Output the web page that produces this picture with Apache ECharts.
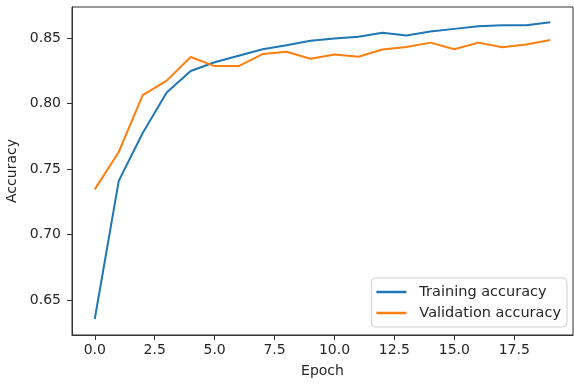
<!DOCTYPE html>
<html>
<head>
<meta charset="utf-8">
<script src="https://cdn.jsdelivr.net/npm/echarts@6/dist/echarts.min.js"></script>
<style>html,body{margin:0;padding:0;background:#fff;}#c{width:574px;height:385px;}</style>
</head>
<body>
<div id="c"></div>
<script>
const epochs = [0,1,2,3,4,5,6,7,8,9,10,11,12,13,14,15,16,17,18,19];
const trainAcc = [0.6355,0.7410,0.7775,0.8085,0.8248,0.8315,0.8365,0.8415,0.8445,0.8480,0.8497,0.8510,0.8540,0.8520,0.8550,0.8570,0.8590,0.8597,0.8597,0.8620];
const valAcc = [0.7345,0.7630,0.8065,0.8175,0.8355,0.8286,0.8286,0.8378,0.8396,0.8342,0.8375,0.8357,0.8412,0.8432,0.8465,0.8414,0.8465,0.8430,0.8450,0.8485];
const xTicks = [0,2.5,5,7.5,10,12.5,15,17.5];
const yTicks = [0.65,0.70,0.75,0.80,0.85];
const seriesNames = ['Training accuracy','Validation accuracy'];

const font = 'DejaVu Sans';
const txt = '#262626';
const chart = echarts.init(document.getElementById('c'));
chart.setOption({
  animation: false,
  backgroundColor: '#fff',
  grid: {left: 72, right: 1, top: 7, bottom: 50, show: true, borderColor: '#333', borderWidth: 1, backgroundColor: 'transparent', outerBoundsMode: 'none', containLabel: false},
  xAxis: {
    type: 'value', min: -0.95, max: 19.95,
    name: 'Epoch', nameLocation: 'middle', nameGap: 29,
    nameTextStyle: {fontFamily: font, fontSize: 14, color: txt},
    axisLine: {show: true, onZero: false, lineStyle: {color: '#333', width: 1}},
    axisTick: {show: true, customValues: xTicks, length: 5, lineStyle: {color: '#333'}},
    axisLabel: {customValues: xTicks, fontFamily: font, fontSize: 14, color: txt, margin: 8, formatter: v => v.toFixed(1)},
    splitLine: {show: false}
  },
  yAxis: {
    type: 'value', min: 0.6233, max: 0.8737,
    name: 'Accuracy', nameLocation: 'middle', nameGap: 51,
    nameTextStyle: {fontFamily: font, fontSize: 14, color: txt},
    axisLine: {show: true, onZero: false, lineStyle: {color: '#333', width: 1}},
    axisTick: {show: true, customValues: yTicks, length: 5, lineStyle: {color: '#333'}},
    axisLabel: {customValues: yTicks, fontFamily: font, fontSize: 14, color: txt, margin: 11, formatter: v => v.toFixed(2)},
    splitLine: {show: false}
  },
  legend: {
    orient: 'vertical', right: 7, bottom: 58,
    backgroundColor: 'rgba(255,255,255,0.8)', borderColor: '#d0d0d0', borderWidth: 1, borderRadius: 4,
    padding: [6, 6, 6, 5], itemGap: 5,
    icon: 'rect', itemWidth: 30, itemHeight: 2.5,
    textStyle: {fontFamily: font, fontSize: 14.5, lineHeight: 16, color: txt, padding: [0, 0, 0, 8]},
    data: seriesNames
  },
  series: [
    {name: seriesNames[0], type: 'line', data: epochs.map((e,i)=>[e,trainAcc[i]]), showSymbol: false, symbol: 'none',
     lineStyle: {color: '#1f77b4', width: 2}, itemStyle: {color: '#1f77b4'}},
    {name: seriesNames[1], type: 'line', data: epochs.map((e,i)=>[e,valAcc[i]]), showSymbol: false, symbol: 'none',
     lineStyle: {color: '#ff7f0e', width: 2}, itemStyle: {color: '#ff7f0e'}}
  ]
});
</script>
</body>
</html>
